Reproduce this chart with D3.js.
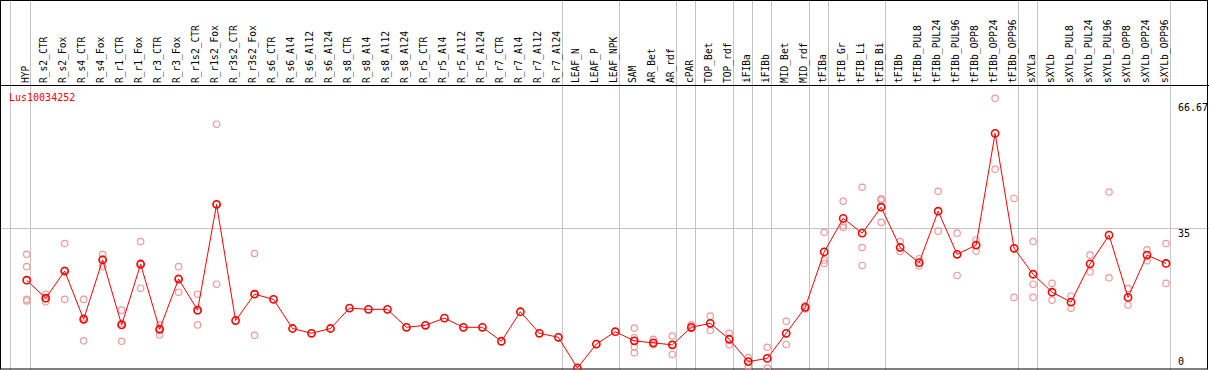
<!DOCTYPE html>
<html>
<head>
<meta charset="utf-8">
<script src="https://cdn.jsdelivr.net/npm/d3@7"></script>
<style>
  body { margin: 0; background: #fff; }
  text { font-family: "DejaVu Sans Mono", monospace; }
</style>
</head>
<body>
<div id="chart"></div>
<script>
// Data
const geneName = 'Lus10034252'
const columns = ['HYP', 'R_s2_CTR', 'R_s2_Fox', 'R_s4_CTR', 'R_s4_Fox', 'R_r1_CTR', 'R_r1_Fox',
  'R_r3_CTR', 'R_r3_Fox', 'R_r1s2_CTR', 'R_r1s2_Fox', 'R_r3s2_CTR', 'R_r3s2_Fox',
  'R_s6_CTR', 'R_s6_Al4', 'R_s6_Al12', 'R_s6_Al24', 'R_s8_CTR', 'R_s8_Al4', 'R_s8_Al12', 'R_s8_Al24',
  'R_r5_CTR', 'R_r5_Al4', 'R_r5_Al12', 'R_r5_Al24', 'R_r7_CTR', 'R_r7_Al4', 'R_r7_Al12', 'R_r7_Al24',
  'LEAF_N', 'LEAF_P', 'LEAF_NPK', 'SAM', 'AR_Bet', 'AR_rdf', 'cPAR', 'TOP_Bet', 'TOP_rdf',
  'iFIBa', 'iFIBb', 'MID_Bet', 'MID_rdf', 'tFIBa', 'tFIB_Gr', 'tFIB_Li', 'tFIB_Bi',
  'tFIBb', 'tFIBb_PUL8', 'tFIBb_PUL24', 'tFIBb_PUL96', 'tFIBb_OPP8', 'tFIBb_OPP24', 'tFIBb_OPP96',
  'sXYLa', 'sXYLb', 'sXYLb_PUL8', 'sXYLb_PUL24', 'sXYLb_PUL96', 'sXYLb_OPP8', 'sXYLb_OPP24', 'sXYLb_OPP96']

const means = [22.0, 17.5, 24.3, 12.2, 27.1, 10.8, 26.0, 9.7, 22.3, 14.5, 41.0, 11.9, 18.5,
  17.2, 9.9, 8.7, 9.9, 15.0, 14.7, 14.7, 10.2, 10.7, 12.5, 10.2, 10.2, 6.7, 14.1, 8.7, 7.7,
  0, 6.0, 9.1, 6.8, 6.3, 5.8, 10.2, 11.2, 7.2, 1.6, 2.4, 8.7, 15.2, 29.1, 37.5, 33.8, 40.3,
  30.2, 26.4, 39.3, 28.5, 30.8, 58.8, 30.0, 23.5, 19.0, 16.5, 26.1, 33.3, 17.7, 28.3, 26.2]

const replicates = [
  [28.5, 25.4, 17.2, 16.8], [18.5, 16.6, 17.4], [31.2, 17.2, 24.5], [17.2, 6.8, 12.6],
  [28.5, 25.4, 27.3], [14.5, 6.7, 11.2], [31.7, 20.0, 26.3], [10.8, 8.3, 9.9],
  [25.4, 19.0, 22.5], [18.5, 10.8, 14.3], [61.1, 21.0, 41.0], [], [28.7, 8.2, 18.5],
  [], [], [], [], [], [], [], [], [], [], [], [], [], [], [], [],
  [], [], [],
  [10.0, 7.6, 5.3, 3.8], [7.2, 5.8, 6.0], [8.0, 3.4, 5.8], [10.8, 9.9], [13.0, 9.4], [8.7, 5.8],
  [2.6, 0.5], [5.2, 0], [11.7, 5.9], [15.6, 14.8], [34.0, 27.1, 26.2], [41.8, 35.7, 35.2],
  [45.3, 30.2, 25.7], [42.4, 42.1, 36.5], [31.7, 29.2], [27.4, 25.6], [44.3, 34.3],
  [33.8, 23.2], [32.1, 29.3], [67.6, 49.8], [42.5, 17.7], [31.7, 21.0, 17.7], [21.2, 17.0],
  [18.0, 15.0], [28.3, 24.1], [44.1, 22.6], [19.9, 15.8], [29.6, 26.9], [31.2, 21.2]]

// group separators are drawn just after these columns
const separatorAfter = ['HYP', 'R_r7_Al24', 'LEAF_NPK', 'AR_rdf', 'cPAR', 'TOP_rdf', 'iFIBa',
  'iFIBb', 'MID_rdf', 'tFIBa', 'tFIB_Bi', 'tFIBb_OPP96', 'sXYLa', 'sXYLb_OPP96']
const yTicks = [0, 35, 66.67]

// Dimensions
const dimensions = {
  width: 1209,
  height: 370,
  headerBottom: 85,
  plotBottom: 368,
  plotTop: 102
}

const svg = d3.select('#chart')
  .append('svg')
  .attr('width', dimensions.width)
  .attr('height', dimensions.height)

// Scales
const xScale = d3.scalePoint()
  .domain(columns)
  .range([26.7, 1166])

const yScale = d3.scaleLinear()
  .domain([0, 66.67])
  .range([dimensions.plotBottom, dimensions.plotTop])

const grey = '#c4c4c4'

// Grid: horizontal lines (skip the top tick)
svg.append('g')
  .selectAll('line')
  .data(yTicks.filter(d => d > 0 && d < 60))
  .join('line')
  .attr('x1', 0)
  .attr('x2', dimensions.width)
  .attr('y1', d => Math.round(yScale(d)) + 0.5)
  .attr('y2', d => Math.round(yScale(d)) + 0.5)
  .attr('stroke', grey)

// Grid: group separators
const sepX = [xScale(columns[0]) - 16].concat(separatorAfter.map(c => xScale(c) + 4))
svg.append('g')
  .selectAll('line')
  .data(sepX)
  .join('line')
  .attr('x1', d => Math.floor(d) + 0.5)
  .attr('x2', d => Math.floor(d) + 0.5)
  .attr('y1', 0)
  .attr('y2', dimensions.height)
  .attr('stroke', grey)

// Frame
svg.append('rect')
  .attr('x', 0.5)
  .attr('y', 0.5)
  .attr('width', dimensions.width - 2)
  .attr('height', dimensions.height - 1.5)
  .attr('fill', 'none')
  .attr('stroke', 'black')

svg.append('line')
  .attr('x1', 0)
  .attr('x2', dimensions.width)
  .attr('y1', dimensions.headerBottom + 0.5)
  .attr('y2', dimensions.headerBottom + 0.5)
  .attr('stroke', 'black')

// Column labels (vertical)
svg.append('g')
  .selectAll('text')
  .data(columns)
  .join('text')
  .attr('transform', d => `translate(${xScale(d) + 1.8}, 83) rotate(-90)`)
  .attr('font-size', '9.6px')
  .attr('fill', 'black')
  .text(d => d)

// Right-hand value labels
svg.append('g')
  .selectAll('text')
  .data(yTicks)
  .join('text')
  .attr('x', 1178)
  .attr('y', d => Math.min(yScale(d) + 8.5, 365))
  .attr('font-size', '10px')
  .attr('fill', 'black')
  .text(d => d)

// Gene name
svg.append('text')
  .attr('x', 9)
  .attr('y', 101)
  .attr('font-size', '10px')
  .attr('fill', '#ff0000')
  .text(geneName)

// Replicate points
const repPoints = []
replicates.forEach((vals, i) => vals.forEach(v => repPoints.push({ col: columns[i], v })))

svg.append('g')
  .selectAll('circle')
  .data(repPoints)
  .join('circle')
  .attr('cx', d => xScale(d.col))
  .attr('cy', d => yScale(d.v))
  .attr('r', 3.2)
  .attr('fill', 'none')
  .attr('stroke', '#f09a9a')
  .attr('stroke-width', 1.2)

// Mean line
const line = d3.line()
  .x((d, i) => xScale(columns[i]))
  .y(d => yScale(d))

svg.append('path')
  .datum(means)
  .attr('d', line)
  .attr('fill', 'none')
  .attr('stroke', '#ff0000')
  .attr('stroke-width', 1)

svg.append('g')
  .selectAll('circle')
  .data(means)
  .join('circle')
  .attr('cx', (d, i) => xScale(columns[i]))
  .attr('cy', d => yScale(d))
  .attr('r', 3.6)
  .attr('fill', 'none')
  .attr('stroke', '#ff0000')
  .attr('stroke-width', 1.6)
</script>
</body>
</html>
